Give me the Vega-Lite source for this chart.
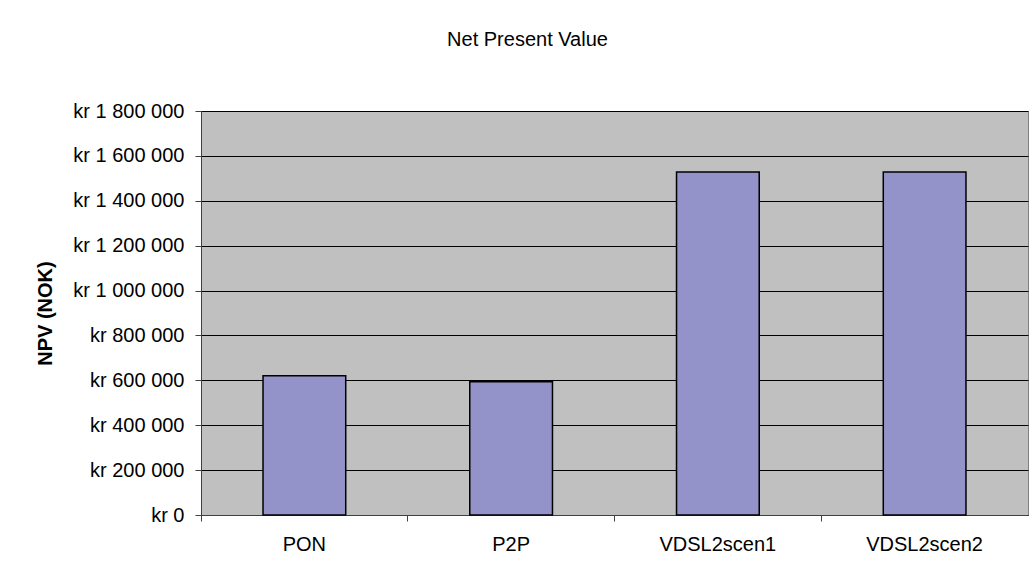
{
  "$schema": "https://vega.github.io/schema/vega-lite/v6.json",
  "width": 827,
  "height": 404,
  "autosize": {"type": "none"},
  "padding": {"left": 201, "top": 111, "right": 4, "bottom": 62},
  "background": "white",
  "title": {"text": "Net Present Value", "fontSize": 20, "font": "Liberation Sans", "fontWeight": "normal", "color": "#000", "anchor": "middle", "dx": -87, "offset": 51},
  "data": {"values": [
    {"scheme": "PON", "npv": 620000},
    {"scheme": "P2P", "npv": 594000},
    {"scheme": "VDSL2scen1", "npv": 1528000},
    {"scheme": "VDSL2scen2", "npv": 1528000}
  ]},
  "mark": {"type": "bar", "width": {"band": 0.4}, "fill": "#9393C9", "stroke": "#000", "strokeWidth": 1.5},
  "encoding": {
    "x": {
      "field": "scheme", "type": "nominal", "sort": null,
      "scale": {"paddingInner": 0, "paddingOuter": 0},
      "axis": {"title": null, "labelAngle": 0, "bandPosition": 0, "grid": false, "tickSize": 6, "labelPadding": 13, "labelFontSize": 20, "labelFont": "Liberation Sans", "labelColor": "#000", "domainColor": "#404040", "tickColor": "#404040"}
    },
    "y": {
      "field": "npv", "type": "quantitative",
      "scale": {"domain": [0, 1800000], "nice": false},
      "axis": {
        "title": "NPV (NOK)", "titleFont": "Liberation Sans", "titleFontSize": 20, "titleFontWeight": "bold", "titleColor": "#000", "titlePadding": 17,
        "values": [0, 200000, 400000, 600000, 800000, 1000000, 1200000, 1400000, 1600000, 1800000],
        "labelExpr": "'kr ' + replace(format(datum.value, ',d'), regexp(',', 'g'), ' ')",
        "labelFont": "Liberation Sans", "labelFontSize": 20, "labelColor": "#000", "labelPadding": 11,
        "tickSize": 6, "tickColor": "#404040", "domainColor": "#404040",
        "grid": true, "gridColor": "#000", "gridOpacity": 1, "gridWidth": 1
      }
    }
  },
  "config": {"view": {"fill": "#C0C0C0", "stroke": "#808080"}}
}
